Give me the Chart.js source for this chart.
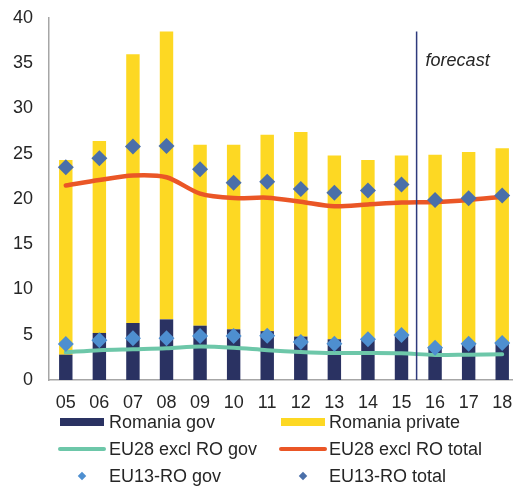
<!DOCTYPE html>
<html>
<head>
<meta charset="utf-8">
<script src="https://cdn.jsdelivr.net/npm/chart.js@4/dist/chart.umd.min.js"></script>
<style>
  html, body { margin: 0; padding: 0; background: #fff; overflow: hidden; }
  #wrap { position: relative; width: 513px; height: 489px; overflow: hidden; }
  #c { position: absolute; left: 0; top: 0; }
  .lg { position: absolute; font-family: "Liberation Sans", Arial, sans-serif; font-size: 18px; color: #262626; white-space: nowrap; line-height: 20px; }
  .sw { position: absolute; }
</style>
</head>
<body>
<div id="wrap">
  <canvas id="c" width="527" height="489"></canvas>
  <div id="legend"></div>
</div>
<script>
const categories = ["05","06","07","08","09","10","11","12","13","14","15","16","17","18"];
const romaniaGov     = [2.8, 5.2, 6.3, 6.7, 6.0, 5.6, 5.4, 4.8, 4.5, 4.4, 5.1, 3.7, 4.1, 4.2];
const romaniaPrivate = [21.5, 21.2, 29.7, 31.8, 20.0, 20.4, 21.7, 22.6, 20.3, 19.9, 19.7, 21.2, 21.1, 21.4];
const eu28Gov        = [3.06, 3.3, 3.4, 3.5, 3.7, 3.57, 3.3, 3.1, 2.98, 2.98, 2.95, 2.76, 2.8, 2.84];
const eu28Total      = [21.5, 22.1, 22.6, 22.4, 20.6, 20.1, 20.15, 19.7, 19.2, 19.4, 19.6, 19.67, 19.9, 20.25];
const eu13Gov        = [3.98, 4.4, 4.6, 4.6, 4.86, 4.86, 4.9, 4.2, 4.0, 4.5, 4.97, 3.57, 4.0, 4.1];
const eu13Total      = [23.5, 24.5, 25.8, 25.85, 23.3, 21.8, 21.9, 21.1, 20.7, 20.95, 21.6, 19.9, 20.07, 20.4];
const yTicks = [0, 5, 10, 15, 20, 25, 30, 35, 40];
const forecastLabel = "forecast";
const forecastAfterIndex = 10.45;

const C = {
  navy: '#2A3262', yellow: '#FDD823', teal: '#6DC7A9', orange: '#EA5626',
  dia1: '#4E8FD0', dia2: '#4A6FA9', text: '#262626', axis: '#A6A6A6', fline: '#2E3A7C'
};
const FONT = '"Liberation Sans", Arial, sans-serif';

const forecastPlugin = {
  id: 'forecast',
  afterDatasetsDraw(chart) {
    const {ctx, chartArea, scales} = chart;
    const x = scales.x.getPixelForValue(forecastAfterIndex);
    ctx.save();
    ctx.strokeStyle = C.fline;
    ctx.lineWidth = 1.5;
    ctx.beginPath();
    ctx.moveTo(x, scales.y.getPixelForValue(38.5));
    ctx.lineTo(x, chartArea.bottom);
    ctx.stroke();
    ctx.fillStyle = C.text;
    ctx.font = 'italic 18px ' + FONT;
    ctx.textBaseline = 'middle';
    ctx.fillText(forecastLabel, x + 9, scales.y.getPixelForValue(35.2));
    ctx.restore();
  }
};

const datasets = [
  {type:'bar', label:'Romania gov', data: romaniaGov, backgroundColor: C.navy, stack:'ro', order:5,
   categoryPercentage:1, barPercentage:0.4, legendKind:'box'},
  {type:'bar', label:'Romania private', data: romaniaPrivate, backgroundColor: C.yellow, stack:'ro', order:6,
   categoryPercentage:1, barPercentage:0.4, legendKind:'box'},
  {type:'line', label:'EU28 excl RO gov', data: eu28Gov, borderColor: C.teal, borderWidth:4, pointRadius:0,
   tension:0.3, stack:'a', order:3, legendKind:'line', borderCapStyle:'round'},
  {type:'line', label:'EU28 excl RO total', data: eu28Total, borderColor: C.orange, borderWidth:4.5, pointRadius:0,
   tension:0.3, stack:'b', order:3, legendKind:'line', borderCapStyle:'round'},
  {type:'line', label:'EU13-RO gov', data: eu13Gov, showLine:false, pointStyle:'rectRot', pointRadius:8,
   pointBackgroundColor: C.dia1, pointBorderWidth:0, borderColor: C.dia1, stack:'c', order:1, legendKind:'dot'},
  {type:'line', label:'EU13-RO total', data: eu13Total, showLine:false, pointStyle:'rectRot', pointRadius:8,
   pointBackgroundColor: C.dia2, pointBorderWidth:0, borderColor: C.dia2, stack:'d', order:2, legendKind:'dot'}
];

const chart = new Chart(document.getElementById('c'), {
  data: { labels: categories, datasets },
  options: {
    responsive: false, animation: false,
    layout: { padding: { top: 18, right: 0, left: 0, bottom: 0 } },
    plugins: { legend: { display: false }, tooltip: { enabled: false } },
    scales: {
      x: {
        stacked: true,
        grid: { display: false },
        border: { display: true, color: C.axis, width: 1.5 },
        ticks: { color: C.text, font: { family: FONT, size: 18 }, padding: 4, maxRotation: 0, autoSkip: false },
        afterFit(s) { s.height = 109; s.paddingLeft = 0; s.paddingRight = 0; }
      },
      y: {
        stacked: true, min: 0, max: 40,
        grid: { display: false },
        border: { display: true, color: C.axis, width: 1.5 },
        afterBuildTicks(s) { s.ticks = yTicks.map(v => ({value: v})); },
        ticks: { color: C.text, font: { family: FONT, size: 18 }, padding: 8 },
        afterFit(s) { s.width = 49; s.paddingTop = 0; s.paddingBottom = 0; }
      }
    }
  },
  plugins: [forecastPlugin]
});

// Legend (HTML), two columns, three rows
const legend = document.getElementById('legend');
const colX = [60, 281], textX = [109, 329], rowY = [422, 449, 476];
datasets.forEach((d, i) => {
  const col = i % 2, row = Math.floor(i / 2);
  const cy = rowY[row];
  const sw = document.createElement('div');
  sw.className = 'sw';
  if (d.legendKind === 'box') {
    Object.assign(sw.style, {left: colX[col]+'px', top: (cy-4)+'px', width:'44px', height:'8px', background: d.backgroundColor});
  } else if (d.legendKind === 'line') {
    Object.assign(sw.style, {left: (colX[col]-2)+'px', top: (cy-2)+'px', width:'48px', height:'4px', background: d.borderColor, borderRadius:'2px'});
  } else {
    Object.assign(sw.style, {left: (colX[col]+19)+'px', top: (cy-3)+'px', width:'6px', height:'6px', background: d.pointBackgroundColor, transform:'rotate(45deg)'});
  }
  legend.appendChild(sw);
  const t = document.createElement('div');
  t.className = 'lg';
  t.textContent = d.label;
  t.style.left = textX[col] + 'px';
  t.style.top = (cy - 10) + 'px';
  legend.appendChild(t);
});
</script>
</body>
</html>
